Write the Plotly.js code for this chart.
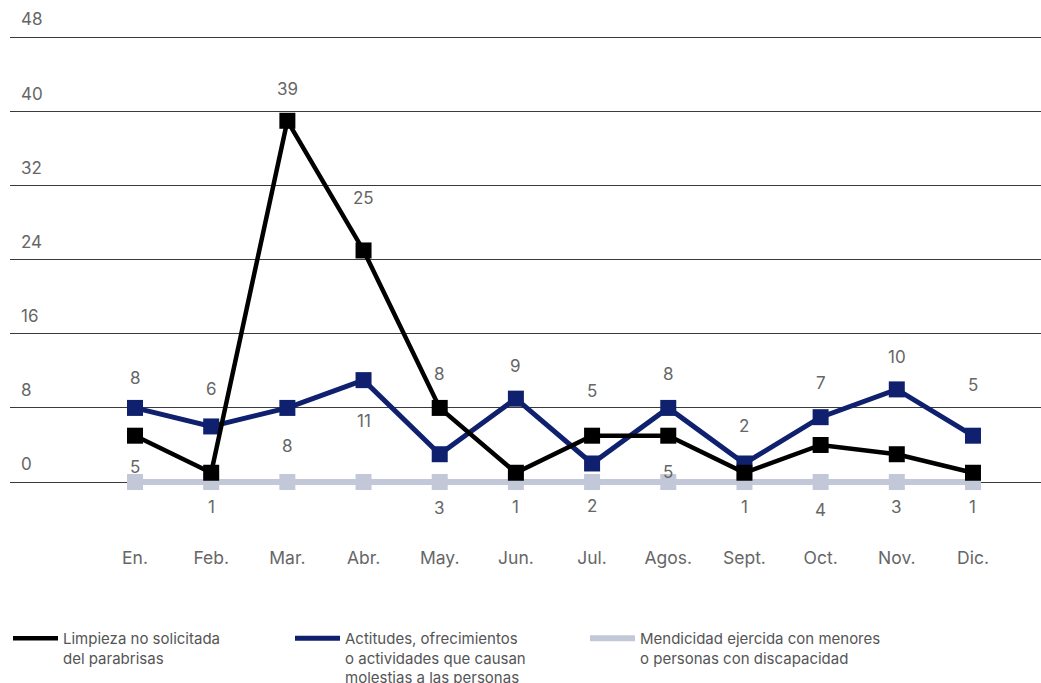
<!DOCTYPE html>
<html>
<head>
<meta charset="utf-8">
<script src="https://cdn.plot.ly/plotly-3.0.1.min.js"></script>
<style>
  html, body { margin: 0; padding: 0; background: #fff; }
  #chart { width: 1041px; height: 683px; }
</style>
</head>
<body>
<div id="chart"></div>
<script>
// ---- data ----
const months = ["En.", "Feb.", "Mar.", "Abr.", "May.", "Jun.", "Jul.", "Agos.", "Sept.", "Oct.", "Nov.", "Dic."];
const limpieza = [5, 1, 39, 25, 8, 1, 5, 5, 1, 4, 3, 1];
const actitudes = [8, 6, 8, 11, 3, 9, 2, 8, 2, 7, 10, 5];
const mendicidad = [0, 0, 0, 0, 0, 0, 0, 0, 0, 0, 0, 0];
const yTicks = [0, 8, 16, 24, 32, 40, 48];
const seriesNames = [
  "Limpieza no solicitada<br>del parabrisas",
  "Actitudes, ofrecimientos<br>o actividades que causan<br>molestias a las personas",
  "Mendicidad ejercida con menores<br>o personas con discapacidad"
];

// ---- styles (label offsets in px, positive = up) ----
const limpiezaLabelShift = [-31, -34, 32, 52, 34, -34, 45, -36, -34, -65, -53, -34];
const actitudesLabelShift = [30, 37, -38, -41, -54, 33, -43, 34, 37, 34, 32, 51];

const colBlack = "#000000";
const colBlue = "#0f216e";
const colGray = "#c3c8d9";
const textCol = "#666666";
const FONT = "Inter, Roboto, 'Noto Sans', sans-serif";

const W = 1041, H = 683;
const M = {l: 10, r: 0, t: 5, b: 138, autoexpand: false};
const plotW = W - M.l - M.r, plotH = H - M.t - M.b;
const pxToPaperX = px => (px - M.l) / plotW;
const pxToPaperY = py => (H - M.b - py) / plotH;

const xs = months.map((m, i) => i);

function lineTrace(y, color, width, name, legend) {
  return {x: xs, y: y, type: "scatter", mode: "lines", name: name,
    line: {color: color, width: width}, legend: legend, hoverinfo: "skip"};
}
function markerTrace(y, color) {
  return {x: xs, y: y, type: "scatter", mode: "markers", showlegend: false,
    marker: {symbol: "square", size: 16, color: color, line: {width: 0}}, hoverinfo: "skip"};
}

const data = [
  lineTrace(mendicidad, colGray, 6, seriesNames[2], "legend3"),
  markerTrace(mendicidad, colGray),
  lineTrace(actitudes, colBlue, 5, seriesNames[1], "legend2"),
  markerTrace(actitudes, colBlue),
  lineTrace(limpieza, colBlack, 4.5, seriesNames[0], "legend"),
  markerTrace(limpieza, colBlack)
];

const annotations = [];
months.forEach((m, i) => {
  annotations.push({x: i, y: limpieza[i], text: String(limpieza[i]), showarrow: false,
    yshift: limpiezaLabelShift[i], font: {family: FONT, size: 17, color: textCol}});
  annotations.push({x: i, y: actitudes[i], text: String(actitudes[i]), showarrow: false,
    yshift: actitudesLabelShift[i], font: {family: FONT, size: 17, color: textCol}});
});

const legendFont = {family: FONT, size: 15, color: "#555555"};
function legendAt(px) {
  return {x: pxToPaperX(px), xanchor: "left", y: pxToPaperY(622), yanchor: "top",
    orientation: "v", valign: "top", font: legendFont, bgcolor: "rgba(0,0,0,0)",
    borderwidth: 0, itemwidth: 45, itemclick: false, itemdoubleclick: false};
}

const layout = {
  width: W, height: H,
  margin: M,
  paper_bgcolor: "#ffffff",
  plot_bgcolor: "#ffffff",
  font: {family: FONT, color: textCol},
  showlegend: true,
  xaxis: {
    type: "linear",
    range: [-1.641, 11.893],
    tickvals: xs, ticktext: months,
    showgrid: false, zeroline: false, showline: false, ticks: "",
    tickfont: {family: FONT, size: 17.5, color: textCol},
    fixedrange: true
  },
  yaxis: {
    range: [-6.8, 51.5],
    tickvals: yTicks, ticktext: yTicks.map(String),
    ticklabelposition: "inside top",
    ticklabelstandoff: 8,
    ticklabelshift: -6,
    showgrid: true, gridcolor: "#3a3a3a", gridwidth: 1,
    zeroline: false, showline: false, ticks: "",
    tickfont: {family: FONT, size: 17, color: textCol},
    fixedrange: true
  },
  annotations: annotations,
  legend: legendAt(8),
  legend2: legendAt(290),
  legend3: legendAt(585)
};

Plotly.newPlot("chart", data, layout, {displayModeBar: false, staticPlot: true});
</script>
</body>
</html>
